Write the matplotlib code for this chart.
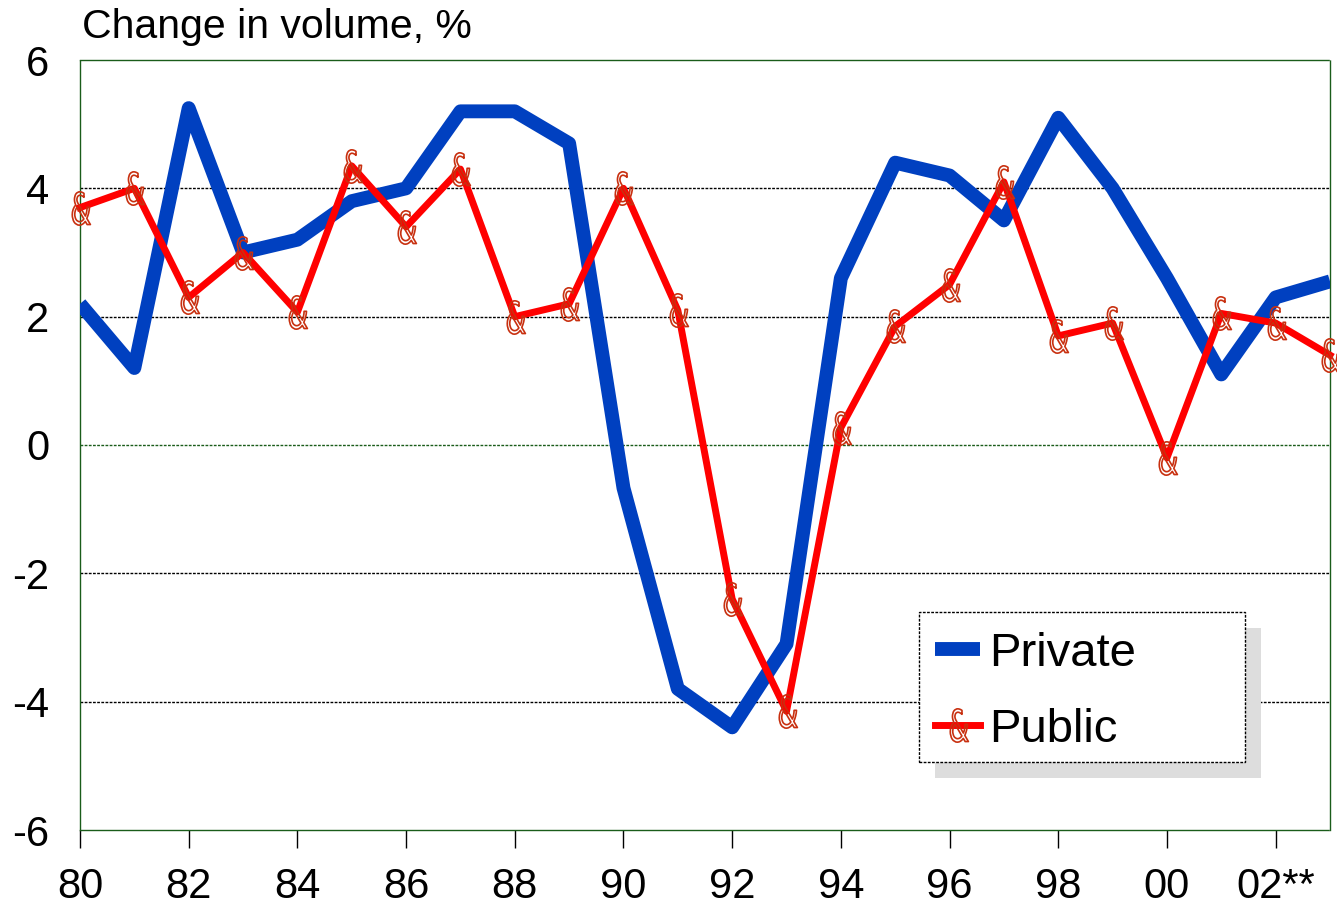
import matplotlib
matplotlib.use("Agg")
import matplotlib.pyplot as plt
from matplotlib.patches import Rectangle
from matplotlib.textpath import TextPath
from matplotlib.path import Path
from matplotlib.font_manager import FontProperties

plt.rcParams['font.family'] = ['Liberation Sans', 'DejaVu Sans']
plt.rcParams['axes.unicode_minus'] = False

# data
years = list(range(1980, 2004))
private = [2.2, 1.2, 5.25, 3.0, 3.2, 3.8, 4.0, 5.2, 5.2, 4.7, -0.67, -3.8,
           -4.4, -3.1, 2.6, 4.4, 4.2, 3.5, 5.1, 4.0, 2.6, 1.1, 2.3, 2.55]
public = [3.7, 4.0, 2.3, 3.0, 2.07, 4.35, 3.4, 4.3, 2.0, 2.2, 4.0, 2.1,
          -2.4, -4.15, 0.27, 1.85, 2.5, 4.1, 1.7, 1.9, -0.2, 2.05, 1.9, 1.4]
tick_years = list(range(1980, 2004, 2))
tick_labels = ['80', '82', '84', '86', '88', '90', '92', '94', '96', '98', '00', '02**']
y_ticks = [-6, -4, -2, 0, 2, 4, 6]

# "&" marker built from a glyph, centred on the point, squeezed a bit
tp = TextPath((0, 0), '&', prop=FontProperties(family='DejaVu Sans'))
v = tp.vertices.copy()
v[:, 0] -= (v[:, 0].min() + v[:, 0].max()) / 2
v[:, 1] -= (v[:, 1].min() + v[:, 1].max()) / 2
v[:, 0] *= 0.6
amp = Path(v, tp.codes)

fig = plt.figure(figsize=(13.37, 9.11), dpi=100)
ax = fig.add_axes([80/1337, 81/911, 1250/1337, 770/911])

# gridlines
for y in [-4, -2, 2, 4]:
    ax.axhline(y, color='black', lw=1, ls=(0, (2, 1)), zorder=1)
ax.axhline(0, color='#1a5c1a', lw=1, ls=(0, (2, 1)), zorder=1)

ax.plot(years, private, color='#0040c0', lw=10, solid_joinstyle='round',
        solid_capstyle='butt', label='Private', zorder=3)
ax.plot(years, public, color='#ff0000', lw=5, marker=amp, markersize=24,
        markerfacecolor='none', markeredgecolor='#c83010', markeredgewidth=1.2,
        label='Public', zorder=4, clip_on=False)

ax.set_xlim(1980, 2003)
ax.set_ylim(-6, 6)
ax.set_xticks(tick_years)
ax.set_xticklabels(tick_labels)
ax.set_yticks(y_ticks)
ax.tick_params(axis='x', length=13, width=1, direction='out', labelsize=30, pad=14)
ax.tick_params(axis='y', length=0, labelsize=30, pad=22)
for t in ax.xaxis.get_ticklines():
    t.set_linestyle((0, (2, 1)))

for s in ax.spines.values():
    s.set_color('#1a5c1a')
    s.set_linewidth(1)
    s.set_linestyle((0, (2, 1)))

fig.text(82/1337, 1 - 27/911, 'Change in volume, %', fontsize=29.5, va='center', ha='left')

# legend box with grey offset shadow (axes fractions)
bx0, by0, bw, bh = 0.6712, 0.0883, 0.2608, 0.1948
ax.add_patch(Rectangle((bx0 + 0.0128, by0 - 0.0208), bw, bh, transform=ax.transAxes,
                       facecolor='#dddddd', edgecolor='none', zorder=8))
ax.add_patch(Rectangle((bx0, by0), bw, bh, transform=ax.transAxes,
                       facecolor='white', edgecolor='black', lw=1,
                       ls=(0, (2, 1)), zorder=9))

leg = ax.legend(loc='center left', bbox_to_anchor=(bx0 + 0.013, by0 + bh / 2 - 0.006),
                fontsize=34, frameon=False, handlelength=0.95,
                handletextpad=0.2, labelspacing=0.68, borderpad=0, borderaxespad=0)
leg.set_zorder(10)

fig.savefig('out.png', dpi=100)
